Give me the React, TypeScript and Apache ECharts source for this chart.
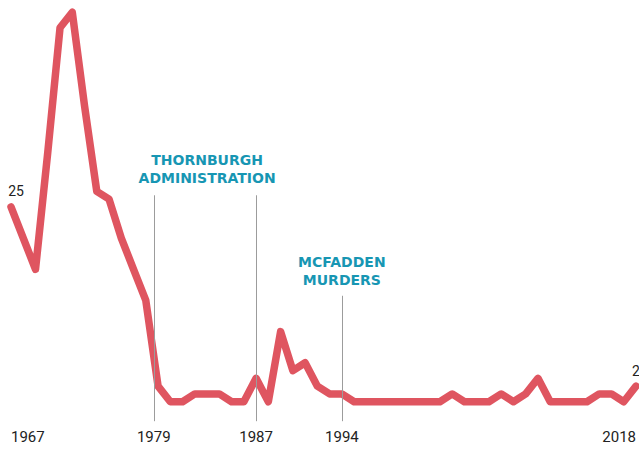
import React, { useEffect, useRef } from "react";
import * as echarts from "echarts";

// Data
const years = [
  1967, 1968, 1969, 1970, 1971, 1972, 1973, 1974, 1975, 1976, 1977, 1978,
  1979, 1980, 1981, 1982, 1983, 1984, 1985, 1986, 1987, 1988, 1989, 1990,
  1991, 1992, 1993, 1994, 1995, 1996, 1997, 1998, 1999, 2000, 2001, 2002,
  2003, 2004, 2005, 2006, 2007, 2008, 2009, 2010, 2011, 2012, 2013, 2014,
  2015, 2016, 2017, 2018,
];
const counts = [
  25, 21, 17, 32, 48, 50, 38, 27, 26, 21, 17, 13,
  2, 0, 0, 1, 1, 1, 0, 0, 3, 0, 9, 4,
  5, 2, 1, 1, 0, 0, 0, 0, 0, 0, 0, 0,
  1, 0, 0, 0, 1, 0, 1, 3, 0, 0, 0, 0,
  1, 1, 0, 2,
];
const tickYears = [1967, 1978.65, 1987, 1994, 2018];

// Annotations
const thornburgh = { from: 1979, to: 1987, text: "THORNBURGH\nADMINISTRATION" };
const thornburghLines = [1978.65, 1987];
const mcfadden = { year: 1994, text: "MCFADDEN\nMURDERS" };

const LINE_COLOR = "#df5560";
const TEAL = "#1796b3";
const GRAY = "#9c9c9c";
const Y_MIN = -2.5;
const Y_MAX = 50;
const TALL_TOP = 26.5;
const SHORT_TOP = 13.6;

export default function App() {
  const ref = useRef<HTMLDivElement>(null);
  useEffect(() => {
    const chart = echarts.init(ref.current!, null, { renderer: "svg" });
    const lastIdx = years.length - 1;
    const data = years.map((y, i) => {
      const item: any = { value: [y, counts[i]] };
      if (i === 0) {
        item.label = {
          show: true,
          position: "top",
          distance: 9,
          offset: [5, 0],
        };
      } else if (i === lastIdx) {
        item.label = { show: true, position: "top", distance: 8 };
      }
      return item;
    });
    const annoLabel = {
      color: TEAL,
      fontFamily: "DejaVu Sans",
      fontWeight: "bold" as const,
      fontSize: 14,
      lineHeight: 18,
    };
    chart.setOption({
      animation: false,
      grid: { left: 11, right: 2, top: 12.2, bottom: 27.8 },
      xAxis: {
        type: "value",
        min: 1967,
        max: 2018,
        axisLine: { show: false },
        axisTick: { show: false },
        splitLine: { show: false },
        axisLabel: {
          customValues: tickYears,
          formatter: (v: number) => String(Math.round(v)),
          fontSize: 15,
          fontFamily: "Roboto",
          color: "#222",
          margin: 8,
          showMinLabel: true,
          showMaxLabel: true,
          alignMinLabel: "left",
          alignMaxLabel: "right",
        },
      },
      yAxis: {
        type: "value",
        min: Y_MIN,
        max: Y_MAX,
        show: false,
        splitLine: { show: false },
      },
      series: [
        {
          type: "line",
          data,
          clip: false,
          symbol: "circle",
          symbolSize: 0,
          showSymbol: true,
          lineStyle: { color: LINE_COLOR, width: 7.5, cap: "round", join: "round" },
          itemStyle: { color: LINE_COLOR },
          label: {
            color: "#222",
            fontFamily: "Roboto",
            fontSize: 14,
          },
          markLine: {
            silent: true,
            symbol: ["none", "none"],
            animation: false,
            lineStyle: { color: GRAY, width: 1, type: "solid" },
            label: { show: false },
            emphasis: { disabled: true },
            data: [
              ...thornburghLines.map((x) => [
                { coord: [x, Y_MIN] },
                { coord: [x, TALL_TOP] },
              ]),
              [
                {
                  coord: [mcfadden.year, Y_MIN],
                  label: {
                    show: true,
                    position: "end",
                    distance: 7,
                    formatter: mcfadden.text,
                    ...annoLabel,
                  },
                },
                {
                  coord: [mcfadden.year, SHORT_TOP],
                  label: {
                    show: true,
                    position: "end",
                    distance: 7,
                    formatter: mcfadden.text,
                    ...annoLabel,
                  },
                },
              ],
            ],
          },
          markArea: {
            silent: true,
            itemStyle: { color: "rgba(0,0,0,0)" },
            emphasis: { disabled: true },
            label: {
              show: true,
              position: "top",
              distance: 8,
              formatter: thornburgh.text,
              ...annoLabel,
            },
            data: [
              [
                { coord: [thornburgh.from, TALL_TOP] },
                { coord: [thornburgh.to, Y_MIN] },
              ],
            ],
          },
        },
      ],
    });
    return () => chart.dispose();
  }, []);
  return (
    <div
      ref={ref}
      style={{ position: "fixed", left: 0, top: 0, width: 639, height: 449, background: "#fff" }}
    />
  );
}
